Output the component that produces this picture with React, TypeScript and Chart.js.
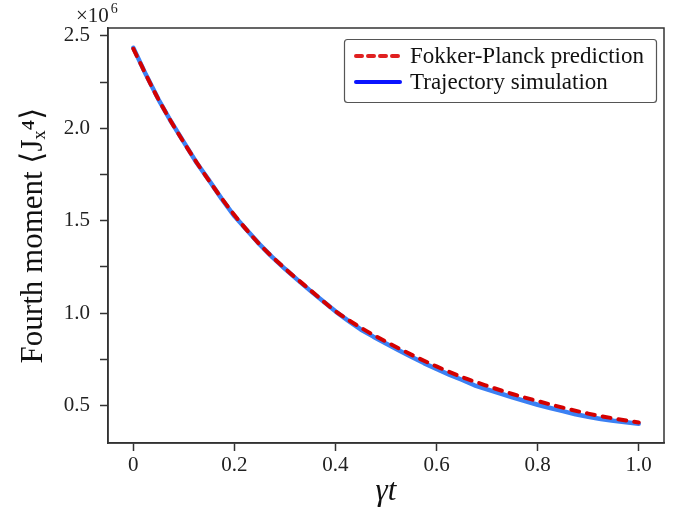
import React, { useEffect, useRef } from "react";
import { Chart, registerables } from "chart.js";

Chart.register(...registerables);

// ---- data (values in units of 10^6) ----
const fpTimes = [0, 0.05, 0.1, 0.15, 0.2, 0.25, 0.3, 0.35, 0.4, 0.45, 0.5, 0.55, 0.6, 0.65, 0.7, 0.75, 0.8, 0.85, 0.9, 0.95, 1.0];
const fpValues = [2.43, 2.155, 1.923, 1.716, 1.531, 1.372, 1.242, 1.125, 1.011, 0.922, 0.846, 0.776, 0.712, 0.655, 0.607, 0.563, 0.525, 0.489, 0.457, 0.431, 0.409];

const simTimes = [0, 0.025, 0.05, 0.075, 0.1, 0.125, 0.15, 0.175, 0.2, 0.225, 0.25, 0.275, 0.3, 0.325, 0.35, 0.375, 0.4, 0.425, 0.45, 0.475, 0.5, 0.525, 0.55, 0.575, 0.6, 0.625, 0.65, 0.675, 0.7, 0.725, 0.75, 0.775, 0.8, 0.825, 0.85, 0.875, 0.9, 0.925, 0.95, 0.975, 1.0];
const simValues = [2.435, 2.29, 2.155, 2.035, 1.925, 1.815, 1.718, 1.618, 1.525, 1.448, 1.372, 1.303, 1.24, 1.18, 1.122, 1.066, 1.01, 0.96, 0.912, 0.873, 0.836, 0.8, 0.765, 0.73, 0.698, 0.668, 0.64, 0.61, 0.588, 0.567, 0.545, 0.525, 0.505, 0.487, 0.47, 0.453, 0.44, 0.428, 0.418, 0.41, 0.402];

const seriesLabels = ["Fokker-Planck prediction", "Trajectory simulation"];
const xTickValues = [0, 0.2, 0.4, 0.6, 0.8, 1.0];
const yTickValues = [0.5, 0.75, 1.0, 1.25, 1.5, 1.75, 2.0, 2.25, 2.5];
const yLabelledTicks = [0.5, 1.0, 1.5, 2.0, 2.5];
const xTitle = "γt";
const yTitle = "Fourth moment ⟨Jₓ⁴⟩";
const offsetText = "×10";
const offsetExp = "6";

const SERIF = "'Liberation Serif', 'DejaVu Serif', serif";
const AXIS = "#333333";
const RED = "#d40000";
const BLUE = "#3b80f3";
const LEGEND_RED = "#e02020";
const LEGEND_BLUE = "#0a14ff";

const framePlugin = {
  id: "frameAndLegend",
  afterDraw(chart: any) {
    const { ctx, chartArea } = chart;
    const { left, right, top, bottom } = chartArea;
    ctx.save();
    // frame
    ctx.strokeStyle = AXIS;
    ctx.lineWidth = 1.5;
    ctx.strokeRect(left, top, right - left, bottom - top);

    // offset text ×10^6
    ctx.fillStyle = "#222";
    ctx.textBaseline = "alphabetic";
    ctx.textAlign = "left";
    ctx.font = `21px ${SERIF}`;
    const ox = 76;
    const oy = 22;
    ctx.fillText(offsetText, ox, oy);
    const w = ctx.measureText(offsetText).width;
    ctx.font = `14px ${SERIF}`;
    ctx.fillText(offsetExp, ox + w + 2, oy - 9);

    // legend
    const lx = 344.5, ly = 39.5, lw = 312, lh = 63;
    ctx.beginPath();
    const r = 3;
    ctx.moveTo(lx + r, ly);
    ctx.lineTo(lx + lw - r, ly);
    ctx.quadraticCurveTo(lx + lw, ly, lx + lw, ly + r);
    ctx.lineTo(lx + lw, ly + lh - r);
    ctx.quadraticCurveTo(lx + lw, ly + lh, lx + lw - r, ly + lh);
    ctx.lineTo(lx + r, ly + lh);
    ctx.quadraticCurveTo(lx, ly + lh, lx, ly + lh - r);
    ctx.lineTo(lx, ly + r);
    ctx.quadraticCurveTo(lx, ly, lx + r, ly);
    ctx.closePath();
    ctx.fillStyle = "rgba(255,255,255,0.9)";
    ctx.fill();
    ctx.strokeStyle = "#555";
    ctx.lineWidth = 1.2;
    ctx.stroke();

    const rows = [
      { y: 56, color: LEGEND_RED, dash: [6, 6] },
      { y: 82, color: LEGEND_BLUE, dash: [] as number[] },
    ];
    rows.forEach((row, i) => {
      ctx.beginPath();
      ctx.setLineDash(row.dash);
      ctx.lineCap = "round";
      ctx.strokeStyle = row.color;
      ctx.lineWidth = 4;
      ctx.moveTo(356, row.y);
      ctx.lineTo(400, row.y);
      ctx.stroke();
      ctx.setLineDash([]);
      ctx.fillStyle = "#111";
      ctx.font = `23px ${SERIF}`;
      ctx.textBaseline = "middle";
      ctx.textAlign = "left";
      ctx.fillText(seriesLabels[i], 410, row.y + 1);
    });
    ctx.restore();
  },
};

export default function App() {
  const canvasRef = useRef<HTMLCanvasElement | null>(null);

  useEffect(() => {
    document.body.style.margin = "0";
    const canvas = canvasRef.current;
    if (!canvas) return;

    const chart = new Chart(canvas, {
      type: "line",
      data: {
        datasets: [
          {
            label: seriesLabels[0],
            data: fpTimes.map((t, i) => ({ x: t, y: fpValues[i] })),
            borderColor: RED,
            borderWidth: 4,
            borderDash: [8, 8],
            borderCapStyle: "round",
            pointRadius: 0,
            cubicInterpolationMode: "monotone",
            fill: false,
          },
          {
            label: seriesLabels[1],
            data: simTimes.map((t, i) => ({ x: t, y: simValues[i] })),
            borderColor: BLUE,
            borderWidth: 4.5,
            borderCapStyle: "round",
            borderJoinStyle: "round",
            pointRadius: 0,
            tension: 0,
            fill: false,
          },
        ],
      },
      options: {
        responsive: false,
        animation: false,
        devicePixelRatio: 1,
        layout: { padding: { left: 0, top: 28, right: 31, bottom: 0 } },
        plugins: {
          legend: { display: false },
          tooltip: { enabled: false },
          title: { display: false },
        },
        scales: {
          x: {
            type: "linear",
            min: -0.05,
            max: 1.05,
            afterBuildTicks: (scale: any) => {
              scale.ticks = xTickValues.map((v) => ({ value: v }));
            },
            afterFit: (scale: any) => {
              scale.height = 67;
            },
            ticks: {
              color: "#222",
              font: { family: SERIF, size: 21 },
              padding: 2,
              maxRotation: 0,
              autoSkip: false,
              callback: (v: any) => (Number(v) === 0 ? "0" : Number(v).toFixed(1)),
            },
            grid: {
              display: true,
              drawOnChartArea: false,
              drawTicks: true,
              tickLength: 8,
              tickWidth: 1.5,
              color: AXIS,
            },
            border: { display: true, color: AXIS, width: 1.5 },
            title: {
              display: true,
              text: xTitle,
              color: "#111",
              font: { family: SERIF, size: 31, style: "italic" },
              padding: { top: 0, bottom: 0 },
            },
          },
          y: {
            type: "linear",
            min: 0.298,
            max: 2.542,
            afterBuildTicks: (scale: any) => {
              scale.ticks = yTickValues.map((v) => ({ value: v }));
            },
            afterFit: (scale: any) => {
              scale.width = 108;
            },
            ticks: {
              color: "#222",
              font: { family: SERIF, size: 21 },
              padding: 10,
              autoSkip: false,
              callback: (v: any) =>
                yLabelledTicks.some((t) => Math.abs(t - Number(v)) < 1e-9) ? Number(v).toFixed(1) : "",
            },
            grid: {
              display: true,
              drawOnChartArea: false,
              drawTicks: true,
              tickLength: 8,
              tickWidth: 1.5,
              color: AXIS,
            },
            border: { display: true, color: AXIS, width: 1.5 },
            title: {
              display: true,
              text: yTitle,
              color: "#111",
              font: { family: SERIF, size: 31 },
              padding: { top: 15, bottom: 0 },
            },
          },
        },
      },
      plugins: [framePlugin],
    } as any);

    return () => chart.destroy();
  }, []);

  return (
    <div style={{ width: 695, height: 510, background: "#fff" }}>
      <canvas ref={canvasRef} width={695} height={510} style={{ display: "block" }} />
    </div>
  );
}
